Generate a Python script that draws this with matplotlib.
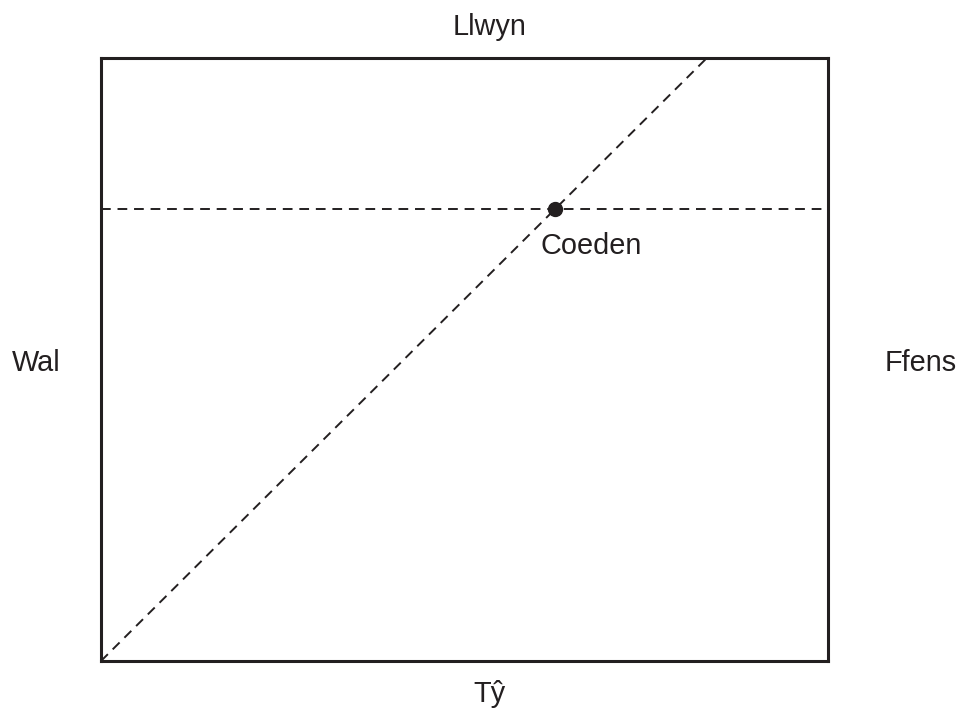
import numpy as np
import matplotlib
matplotlib.use('Agg')
from matplotlib import pyplot as plt

# поле (прямоугольник) и объекты на нём
field_w = 12
field_h = 10
diag_x = [0, 10]
diag_y = [0, 10]
hline_y = 7.5
tree = (7.5, 7.5)
tree_label = 'Coeden'

# подписи сторон: текст, x, y (базовая линия)
sides = [
    ('Llwyn', 6.42, 10.38),
    ('Tŷ', 6.42, -0.68),
    ('Wal', -1.07, 4.81),
    ('Ffens', 13.53, 4.81),
]

ink = '#231f20'
plt.rcParams['font.family'] = ['Liberation Sans', 'DejaVu Sans']

fig = plt.figure(figsize=(9.58, 7.13), dpi=100)
ax = fig.add_axes([0.1054, 0.0729, 0.7589, 0.8457])
ax.set_xlim(0, field_w)
ax.set_ylim(0, field_h)
ax.set_xticks([])
ax.set_yticks([])
for s in ax.spines.values():
    s.set_linewidth(2.2)
    s.set_color(ink)

# диагональ и горизонталь пунктиром
ax.plot(diag_x, diag_y, color=ink, lw=1.4, linestyle=(0, (5, 3.5)), clip_on=False)
ax.axhline(hline_y, color=ink, lw=1.4, linestyle=(0, (5, 3.5)))

# дерево
ax.plot(tree[0], tree[1], 'o', color=ink, markersize=10, zorder=5)
ax.text(8.09, 6.75, tree_label, ha='center', va='baseline', fontsize=20.8, color=ink)

for txt, x, y in sides:
    ax.text(x, y, txt, ha='center', va='baseline', fontsize=20.8, color=ink, clip_on=False)

plt.savefig('out.png', dpi=100)
plt.close()
